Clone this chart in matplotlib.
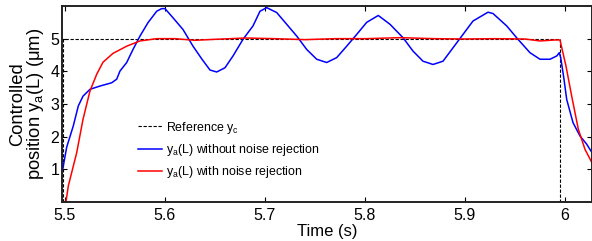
import matplotlib
matplotlib.use("Agg")
import matplotlib.pyplot as plt

plt.rcParams['font.family'] = ['Liberation Sans', 'DejaVu Sans']
plt.rcParams['mathtext.fontset'] = 'custom'
plt.rcParams['mathtext.rm'] = 'Liberation Sans'
plt.rcParams['mathtext.it'] = 'Liberation Sans'

# Reference signal
ref_t = [5.4977, 5.4977, 5.9945, 5.9945]
ref_y = [0.0, 5.0, 5.0, 0.0]

# y_a(L) without noise rejection (blue)
blue_t = [5.4977, 5.5017, 5.5083, 5.5133, 5.518, 5.525, 5.535, 5.5467, 5.5517, 5.555,
          5.5617, 5.568, 5.575, 5.583, 5.5917, 5.5967, 5.600, 5.608, 5.618, 5.628,
          5.637, 5.645, 5.6517, 5.66, 5.668, 5.678, 5.688, 5.695, 5.7017, 5.7117,
          5.7217, 5.7317, 5.7417, 5.7517, 5.7617, 5.7717, 5.7817, 5.7917, 5.8017, 5.8133,
          5.825, 5.838, 5.848, 5.858, 5.868, 5.878, 5.888, 5.898, 5.908, 5.923,
          5.928, 5.9417, 5.953, 5.965, 5.975, 5.985, 5.9917, 5.9943, 5.9957, 5.999,
          6.0017, 6.008, 6.015, 6.0217, 6.027]
blue_y = [1.0, 1.68, 2.33, 2.94, 3.24, 3.45, 3.55, 3.65, 3.76, 4.01,
          4.27, 4.67, 5.08, 5.49, 5.84, 5.92, 5.92, 5.64, 5.28, 4.77,
          4.37, 4.04, 3.98, 4.11, 4.47, 4.98, 5.39, 5.84, 5.95, 5.80,
          5.44, 5.08, 4.67, 4.37, 4.27, 4.42, 4.77, 5.13, 5.50, 5.71,
          5.44, 5.03, 4.62, 4.31, 4.21, 4.31, 4.72, 5.13, 5.54, 5.81,
          5.77, 5.39, 4.98, 4.57, 4.37, 4.37, 4.47, 4.57, 4.42, 3.76,
          3.14, 2.43, 2.02, 1.77, 1.51]

# y_a(L) with noise rejection (red)
red_t = [5.5, 5.5033, 5.5117, 5.518, 5.525, 5.5317, 5.538, 5.548, 5.5617, 5.575,
         5.5917, 5.61, 5.63, 5.65, 5.68, 5.71, 5.74, 5.77, 5.80, 5.835,
         5.87, 5.90, 5.93, 5.96, 5.975, 5.99, 5.995, 6.001, 6.0067, 6.0133,
         6.02, 6.027]
red_y = [-0.2, 0.49, 1.51, 2.53, 3.40, 3.91, 4.28, 4.55, 4.77, 4.93,
         5.0, 5.0, 4.95, 4.98, 5.02, 5.0, 4.97, 5.0, 5.0, 5.03,
         5.0, 4.99, 5.0, 4.99, 4.93, 4.96, 4.96, 4.16, 3.24, 2.23,
         1.61, 1.2]

xticks = [5.5, 5.6, 5.7, 5.8, 5.9, 6.0]
xticklabels = ['5.5', '5.6', '5.7', '5.8', '5.9', '6']
yticks = [1, 2, 3, 4, 5]

fig = plt.figure(figsize=(5.92, 2.41), dpi=100)
ax = fig.add_axes([62/592, 1 - 202/241, 530/592, 196/241])

ax.plot(ref_t, ref_y, color='black', lw=0.8, ls=(0, (3, 1.5)), label='Reference $\\mathregular{y_c}$')
ax.plot(blue_t, blue_y, color='#0000ff', lw=1.1, label='$\\mathregular{y_a}$(L) without noise rejection')
ax.plot(red_t, red_y, color='#ff0000', lw=1.1, label='$\\mathregular{y_a}$(L) with noise rejection')

ax.set_xlim(5.497, 6.027)
ax.set_ylim(0, 6)
ax.set_xticks(xticks)
ax.set_xticklabels(xticklabels)
ax.set_yticks(yticks)
ax.tick_params(direction='in', top=True, right=True, length=3.5, width=0.8,
               labelsize=11.5)
ax.tick_params(axis='x', pad=4)
ax.tick_params(axis='y', pad=2)
for s in ax.spines.values():
    s.set_linewidth(1.4)
    s.set_color('#222222')

ax.set_xlabel('Time (s)', fontsize=12, labelpad=1)
ax.set_ylabel('Controlled\nposition $\\mathregular{y_a}$(L) (μm)', fontsize=13.2,
              labelpad=3, linespacing=0.95)

leg = ax.legend(loc='upper left', bbox_to_anchor=(0.135, 0.445), frameon=False,
                fontsize=8.9, handlelength=1.9, handletextpad=0.3, labelspacing=0.5,
                borderaxespad=0)

fig.savefig('out.png', dpi=100)
